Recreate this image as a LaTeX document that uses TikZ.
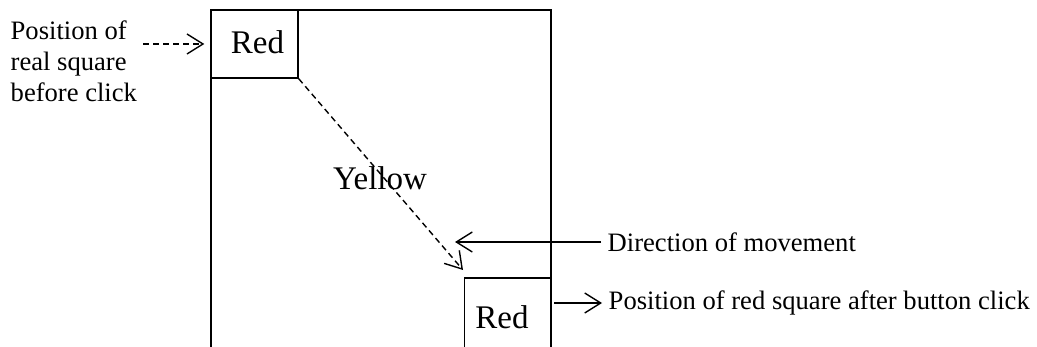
\documentclass[tikz,border=0pt]{standalone}
\usepackage{fontspec}
\setmainfont{Liberation Serif}
\usetikzlibrary{arrows.meta,positioning}
\begin{document}
\begin{tikzpicture}
[
    x=0.5pt, y=-0.5pt,
    font=\fontsize{13.3}{15.5}\selectfont,
    line width=0.7pt,
    tip/.style={-{Straight Barb[length=8pt,width=10pt,line width=0.7pt]}},
    dashline/.style={dash pattern=on 3pt off 2pt},
    square/.style={draw, minimum width=43.5pt, inner sep=0pt, font=\fontsize{16.5}{18}\selectfont},
    label/.style={inner sep=0pt, align=left},
]
\useasboundingbox (0,0) rectangle (1037,347);
% the frame
\draw (211,360) -- (211,10) -- (551,10) -- (551,360);
\node[square, minimum height=34pt] (redA) at (254.5,44) {\hspace*{3pt}\raisebox{2pt}{Red}};
\node[square, minimum height=40pt] (redB) at (508,318) {\hspace*{-6pt}\raisebox{1pt}{Red}};
\node[font=\fontsize{16.5}{18}\selectfont] (yellow) at (380,178) {Yellow};
% labels
\node[label, anchor=north west] (before) at (10,20) {Position of\\real square\\before click};
\node[label, anchor=west] (direction) at (607,242) {Direction of movement};
\node[label, anchor=west] (after) at (608,303) {Position of red square after button click};
\coordinate (beforeEnd) at (143,44);
\coordinate (dirEnd) at (455,242);
\coordinate (moveEnd) at (463,270);
% arrows
\draw[tip, dashline] (beforeEnd) -- ([xshift=-3pt]redA.west);
\draw[tip, dashline] (redA.south east) -- (moveEnd);
\draw[tip] ([xshift=-3pt]direction.west) -- (dirEnd);
\draw[tip] (redB.east |- after.west) ++(1pt,0) -- ([xshift=-3pt]after.west);
\end{tikzpicture}
\end{document}
